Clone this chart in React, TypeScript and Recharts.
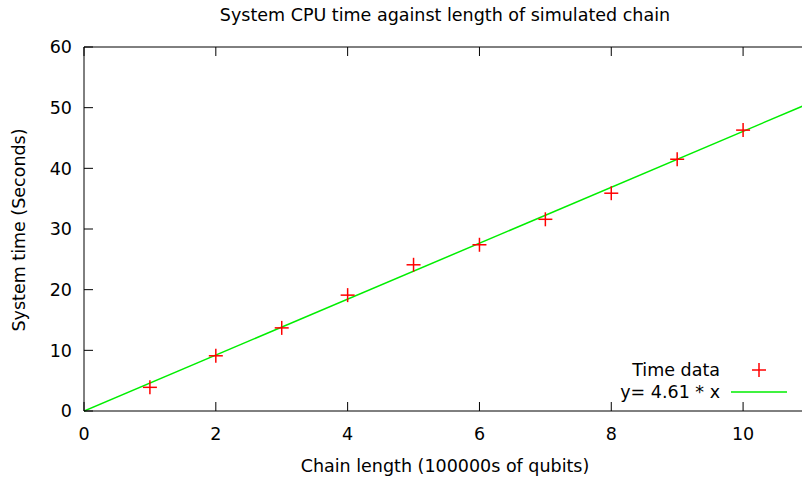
import React from 'react';
import { ComposedChart, Scatter, Line, XAxis, YAxis, Legend, Customized } from 'recharts';

const chainLengths = [1, 2, 3, 4, 5, 6, 7, 8, 9, 10];
const systemTimes = [3.9, 9.1, 13.7, 19.1, 24.1, 27.4, 31.6, 35.9, 41.5, 46.3];
// fitted line y = 4.61 * x, end points
const fitX = [0, 11];
const fitY = [0, 50.71];
const xTicks = [0, 2, 4, 6, 8, 10];
const yTicks = [0, 10, 20, 30, 40, 50, 60];

const timeData = chainLengths.map((x, i) => ({ x, y: systemTimes[i] }));
const fitData = fitX.map((x, i) => ({ x, y: fitY[i] }));

const FONT = '"DejaVu Sans", sans-serif';
const FS = 17.5;
const RED = '#ff0000';
const GREEN = '#00ee00';

const Plus = (props: any) => {
  const { cx, cy } = props;
  if (cx == null || cy == null) return null;
  return (
    <g stroke={RED} strokeWidth={1.5}>
      <line x1={cx - 7} y1={cy} x2={cx + 7} y2={cy} />
      <line x1={cx} y1={cy - 7} x2={cx} y2={cy + 7} />
    </g>
  );
};

const LegendBox = () => (
  <div style={{ fontFamily: FONT, fontSize: FS, color: '#000', lineHeight: '22px' }}>
    <div style={{ display: 'flex', alignItems: 'center', height: 22 }}>
      <span style={{ width: 120, textAlign: 'right' }}>Time data</span>
      <svg width={72} height={22}>
        <line x1={32} y1={11} x2={46} y2={11} stroke={RED} strokeWidth={1.5} />
        <line x1={39} y1={4} x2={39} y2={18} stroke={RED} strokeWidth={1.5} />
      </svg>
    </div>
    <div style={{ display: 'flex', alignItems: 'center', height: 22 }}>
      <span style={{ width: 120, textAlign: 'right' }}>y= 4.61 * x</span>
      <svg width={72} height={22}>
        <line x1={11} y1={11} x2={67} y2={11} stroke={GREEN} strokeWidth={1.5} />
      </svg>
    </div>
  </div>
);

const Texts = () => (
  <g fontFamily={FONT} fontSize={FS} fill="#000">
    <text x={445} y={21} textAnchor="middle">System CPU time against length of simulated chain</text>
    <text x={445} y={472} textAnchor="middle">Chain length (100000s of qubits)</text>
    <text x={25} y={230} textAnchor="middle" transform="rotate(-90 25 230)">System time (Seconds)</text>
  </g>
);

export default function App() {
  const tickStyle = { fontFamily: FONT, fontSize: FS, fill: '#000' };
  const axisLine = { stroke: '#000', strokeWidth: 1 };
  return (
    <div style={{ position: 'absolute', left: 0, top: 0, width: 802, height: 479, overflow: 'hidden', background: '#fff' }}>
      <ComposedChart width={840} height={479} margin={{ top: 46, right: 30, bottom: 0, left: 0 }}>
        <XAxis
          xAxisId="bottom"
          dataKey="x"
          type="number"
          domain={[0, 11]}
          ticks={xTicks}
          interval={0}
          allowDataOverflow
          height={68}
          tickSize={-9}
          tickMargin={26}
          tick={tickStyle}
          axisLine={axisLine}
          tickLine={axisLine}
        />
        <XAxis
          xAxisId="top"
          orientation="top"
          dataKey="x"
          type="number"
          domain={[0, 11]}
          ticks={xTicks}
          interval={0}
          allowDataOverflow
          height={1}
          tickSize={-9}
          tickFormatter={() => ''}
          axisLine={axisLine}
          tickLine={axisLine}
        />
        <YAxis
          yAxisId="left"
          type="number"
          domain={[0, 60]}
          ticks={yTicks}
          interval={0}
          width={84}
          tickSize={-9}
          tickMargin={21}
          tick={tickStyle}
          axisLine={axisLine}
          tickLine={axisLine}
        />
        <YAxis
          yAxisId="right"
          orientation="right"
          type="number"
          domain={[0, 60]}
          ticks={yTicks}
          interval={0}
          width={1}
          tickSize={-9}
          tickFormatter={() => ''}
          axisLine={axisLine}
          tickLine={axisLine}
        />
        <Scatter
          name="Time data"
          data={timeData}
          dataKey="y"
          xAxisId="bottom"
          yAxisId="left"
          shape={<Plus />}
          isAnimationActive={false}
        />
        <Line
          name="y= 4.61 * x"
          data={fitData}
          dataKey="y"
          xAxisId="bottom"
          yAxisId="left"
          type="linear"
          stroke={GREEN}
          strokeWidth={1.5}
          dot={false}
          activeDot={false}
          isAnimationActive={false}
        />
        <Legend
          layout="horizontal"
          verticalAlign="middle"
          align="center"
          content={<LegendBox />}
          wrapperStyle={{ position: 'absolute', left: 600, top: 359, width: 200, bottom: 'auto', right: 'auto' }}
        />
        <Customized component={Texts} />
      </ComposedChart>
    </div>
  );
}
